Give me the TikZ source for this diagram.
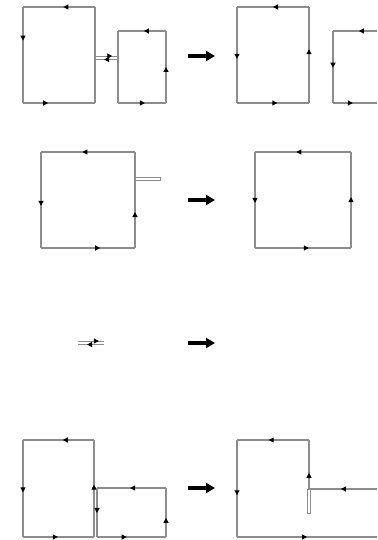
\documentclass[tikz,border=0pt]{standalone}
\usetikzlibrary{arrows.meta,decorations.markings}
\definecolor{ln}{HTML}{8C8C8C}
\tikzset{
  edge/.style={draw=ln,line width=1.1pt},
  mk/.style={postaction={decorate},decoration={markings,mark=at position #1 with {\arrow{Triangle[length=5pt,width=5pt,color=black]}}}},
  bigarrow/.style={line width=3.2pt,-{Triangle[length=9pt,width=10pt]}},
  thin2/.style={draw=ln,line width=0.9pt,fill=white}
}
\begin{document}
\begin{tikzpicture}[x=1pt,y=-1pt]
\useasboundingbox (0,0) rectangle (377,540);
% ---------- row 1 left
\coordinate (a1) at (23,7); \coordinate (a2) at (95,7);
\coordinate (a3) at (95,103); \coordinate (a4) at (23,103);
\draw[edge,mk=0.44] (a2) -- (a1);
\draw[edge,mk=0.35] (a1) -- (a4);
\draw[edge,mk=0.35] (a4) -- (a3);
\draw[edge] (a3) -- (a2);
\coordinate (b1) at (118,31); \coordinate (b2) at (166,31);
\coordinate (b3) at (166,103); \coordinate (b4) at (118,103);
\draw[edge,mk=0.46] (b2) -- (b1);
\draw[edge] (b1) -- (b4);
\draw[edge,mk=0.56] (b4) -- (b3);
\draw[edge,mk=0.5] (b3) -- (b2);
\coordinate (c1) at (95,56); \coordinate (c2) at (118,56);
\coordinate (c3) at (95,59.5); \coordinate (c4) at (118,59.5);
\draw[draw=ln,line width=0.9pt,mk=0.75] (c1) -- (c2);
\draw[draw=ln,line width=0.9pt,mk=0.6] (c4) -- (c3);
\coordinate (r1s) at (188,56); \coordinate (r1e) at (215,56);
\draw[bigarrow] (r1s) -- (r1e);
% ---------- row 1 right
\coordinate (d1) at (237,7); \coordinate (d2) at (309,7);
\coordinate (d3) at (309,103); \coordinate (d4) at (237,103);
\draw[edge,mk=0.5] (d2) -- (d1);
\draw[edge,mk=0.54] (d1) -- (d4);
\draw[edge,mk=0.56] (d4) -- (d3);
\draw[edge,mk=0.56] (d3) -- (d2);
\coordinate (e1) at (333,31); \coordinate (e2) at (377,31);
\coordinate (e3) at (377,103); \coordinate (e4) at (333,103);
\draw[edge,mk=0.41] (e2) -- (e1);
\draw[edge,mk=0.51] (e1) -- (e4);
\draw[edge,mk=0.45] (e4) -- (e3);
% ---------- row 2 left
\coordinate (f1) at (41,152); \coordinate (f2) at (135,152);
\coordinate (f3) at (135,248); \coordinate (f4) at (41,248);
\draw[edge,mk=0.56] (f2) -- (f1);
\draw[edge,mk=0.56] (f1) -- (f4);
\draw[edge,mk=0.63] (f4) -- (f3);
\draw[edge,mk=0.375] (f3) -- (f2);
\coordinate (g1) at (135,177.2); \coordinate (g2) at (160,180.6);
\draw[thin2] (g1) rectangle (g2);
\coordinate (r2s) at (188,200); \coordinate (r2e) at (215,200);
\draw[bigarrow] (r2s) -- (r2e);
% ---------- row 2 right
\coordinate (h1) at (255,152); \coordinate (h2) at (351,152);
\coordinate (h3) at (351,248); \coordinate (h4) at (255,248);
\draw[edge,mk=0.57] (h2) -- (h1);
\draw[edge,mk=0.53] (h1) -- (h4);
\draw[edge,mk=0.56] (h4) -- (h3);
\draw[edge,mk=0.53] (h3) -- (h2);
% ---------- row 3
\coordinate (i1) at (78,341); \coordinate (i2) at (104,341);
\coordinate (i3) at (78,344.5); \coordinate (i4) at (104,344.5);
\draw[draw=ln,line width=0.9pt,mk=0.8] (i1) -- (i2);
\draw[draw=ln,line width=0.9pt,mk=0.65] (i4) -- (i3);
\coordinate (r3s) at (188,343); \coordinate (r3e) at (215,343);
\draw[bigarrow] (r3s) -- (r3e);
% ---------- row 4 left
\coordinate (j1) at (23,440); \coordinate (j2) at (94,440);
\coordinate (j3) at (94,537); \coordinate (j4) at (23,537);
\draw[edge,mk=0.44] (j2) -- (j1);
\draw[edge,mk=0.54] (j1) -- (j4);
\draw[edge,mk=0.49] (j4) -- (j3);
\draw[edge,mk=0.54] (j3) -- (j2);
\coordinate (k1) at (97,488); \coordinate (k2) at (166,488);
\coordinate (k3) at (166,537); \coordinate (k4) at (97,537);
\draw[edge,mk=0.52] (k2) -- (k1);
\draw[edge,mk=0.51] (k1) -- (k4);
\draw[edge,mk=0.43] (k4) -- (k3);
\draw[edge,mk=0.39] (k3) -- (k2);
\coordinate (r4s) at (188,488); \coordinate (r4e) at (215,488);
\draw[bigarrow] (r4s) -- (r4e);
% ---------- row 4 right
\coordinate (l1) at (237,440); \coordinate (l2) at (309,440);
\coordinate (l3) at (309,489); \coordinate (l4) at (377,489);
\coordinate (l5) at (377,537); \coordinate (l6) at (237,537);
\draw[thin2] (307.6,489) rectangle (310.6,513);
\draw[edge,mk=0.33] (l3) -- (l2);
\draw[edge,mk=0.56] (l2) -- (l1);
\draw[edge,mk=0.57] (l1) -- (l6);
\draw[edge,mk=0.5] (l6) -- (l5);
\draw[edge,mk=0.53] (l4) -- (l3);
\end{tikzpicture}
\end{document}
